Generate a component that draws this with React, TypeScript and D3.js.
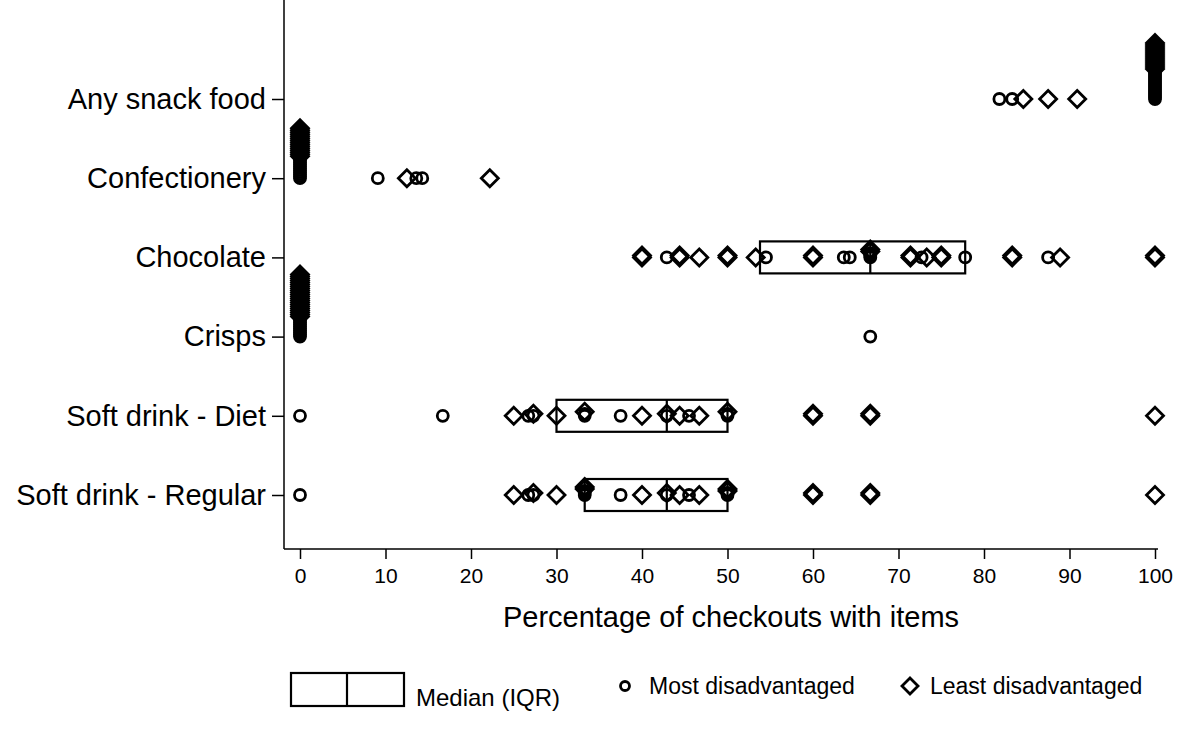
import React, { useRef, useEffect } from "react";
import { select, scaleLinear, scalePoint, axisBottom, axisLeft, symbol, symbolCircle } from "d3";

// categories, top to bottom
const categories = [
  "Any snack food",
  "Confectionery",
  "Chocolate",
  "Crisps",
  "Soft drink - Diet",
  "Soft drink - Regular",
];

const xTicks = [0, 10, 20, 30, 40, 50, 60, 70, 80, 90, 100];

// [percentage, number of checkouts] for most disadvantaged areas (circles)
const snackMost = [[81.8, 1], [83.3, 1], [100, 15]];
const confMost = [[0, 11], [9.1, 1], [13.6, 1], [14.3, 1]];
const chocMost = [[42.9, 1], [54.5, 1], [63.6, 1], [64.3, 1], [66.7, 3], [72.7, 1], [77.8, 1], [87.5, 1]];
const crispsMost = [[0, 10], [66.7, 1]];
const dietMost = [[0, 1], [16.7, 1], [26.7, 1], [27.3, 1], [33.3, 2], [37.5, 1], [42.9, 1], [45.5, 1], [50, 2]];
const regularMost = [[0, 1], [26.7, 1], [27.3, 1], [33.3, 3], [37.5, 1], [42.9, 1], [45.5, 1], [50, 2]];

// [percentage, number of checkouts] for least disadvantaged areas (diamonds)
const snackLeast = [[84.6, 1], [87.5, 1], [90.9, 1], [100, 14]];
const confLeast = [[0, 15], [12.5, 1], [22.2, 1]];
const chocLeast = [[40, 2], [44.4, 2], [46.7, 1], [50, 2], [53.3, 1], [60, 2], [66.7, 2], [71.4, 2], [73.3, 1], [75, 2], [83.3, 2], [88.9, 1], [100, 2]];
const crispsLeast = [[0, 22]];
const dietLeast = [[25, 1], [27.3, 1], [30, 1], [33.3, 1], [40, 1], [42.9, 1], [44.4, 1], [46.7, 1], [50, 1], [60, 2], [66.7, 2], [100, 1]];
const regularLeast = [[25, 1], [27.3, 1], [30, 1], [33.3, 2], [40, 1], [42.9, 1], [44.4, 1], [46.7, 1], [50, 2], [60, 2], [66.7, 2], [100, 1]];

const mostData = [snackMost, confMost, chocMost, crispsMost, dietMost, regularMost];
const leastData = [snackLeast, confLeast, chocLeast, crispsLeast, dietLeast, regularLeast];

// median (IQR) per category
const boxQ1 = [100, 0, 53.8, 0, 30, 33.3];
const boxMedian = [100, 0, 66.7, 0, 42.9, 42.9];
const boxQ3 = [100, 0, 77.8, 0, 50, 50];

const FONT = "'Liberation Sans', Arial, sans-serif";
const STEP = 2; // vertical offset for tied values
const MARK_W = 2.8;

function diamondPath(r: number) {
  return `M0,${-r}L${r},0L0,${r}L${-r},0Z`;
}

export default function App() {
  const svgRef = useRef<SVGSVGElement>(null);

  useEffect(() => {
    const svg = select(svgRef.current);
    svg.selectAll("*").remove();

    const x = scaleLinear().domain([0, 100]).range([300, 1155]);
    const y = scalePoint<string>().domain(categories).range([99, 495]);
    const axisY = 549;
    const axisX = 284;

    // axis lines
    svg.append("line")
      .attr("x1", axisX).attr("x2", axisX).attr("y1", 0).attr("y2", axisY)
      .attr("stroke", "#000").attr("stroke-width", 1.5);
    svg.append("line")
      .attr("x1", axisX).attr("x2", 1158).attr("y1", axisY).attr("y2", axisY)
      .attr("stroke", "#000").attr("stroke-width", 1.5);

    const gx = svg.append("g").attr("transform", `translate(0,${axisY})`)
      .call(axisBottom(x).tickValues(xTicks).tickSize(10).tickPadding(9).tickFormat((d: any) => String(d)));
    gx.select(".domain").remove();
    gx.selectAll("line").attr("stroke-width", 1.5);
    gx.selectAll("text").attr("font-family", FONT).attr("font-size", 21).attr("fill", "#000");

    const gy = svg.append("g").attr("transform", `translate(${axisX},0)`)
      .call(axisLeft(y).tickSize(12).tickPadding(6));
    gy.select(".domain").remove();
    gy.selectAll("line").attr("stroke-width", 1.5);
    gy.selectAll("text").attr("font-family", FONT).attr("font-size", 29).attr("fill", "#000");

    svg.append("text")
      .attr("x", 731).attr("y", 627).attr("text-anchor", "middle")
      .attr("font-family", FONT).attr("font-size", 29)
      .text("Percentage of checkouts with items");

    // median (IQR) boxes
    const boxH = 32;
    categories.forEach((c, i) => {
      if (boxQ1[i] === boxQ3[i]) return;
      const cy = y(c)!;
      const g = svg.append("g");
      g.append("rect")
        .attr("x", x(boxQ1[i])).attr("y", cy - boxH / 2)
        .attr("width", x(boxQ3[i]) - x(boxQ1[i])).attr("height", boxH)
        .attr("fill", "none").attr("stroke", "#000").attr("stroke-width", 2.2);
      g.append("line")
        .attr("x1", x(boxMedian[i])).attr("x2", x(boxMedian[i]))
        .attr("y1", cy - boxH / 2).attr("y2", cy + boxH / 2)
        .attr("stroke", "#000").attr("stroke-width", 2.2);
    });

    // points: circles stacked first, diamonds on top of them
    const circlePath = symbol(symbolCircle, Math.PI * 5.5 * 5.5)();
    categories.forEach((c, i) => {
      const cy = y(c)!;
      const stackCount = new Map<number, number>();
      const pts: { v: number; k: number; shape: string }[] = [];
      mostData[i].forEach(([v, n]) => {
        for (let j = 0; j < n; j++) {
          const k = stackCount.get(v) || 0;
          pts.push({ v, k, shape: "circle" });
          stackCount.set(v, k + 1);
        }
      });
      leastData[i].forEach(([v, n]) => {
        for (let j = 0; j < n; j++) {
          const k = stackCount.get(v) || 0;
          pts.push({ v, k, shape: "diamond" });
          stackCount.set(v, k + 1);
        }
      });
      svg.append("g")
        .selectAll("path")
        .data(pts)
        .join("path")
        .attr("d", (d) => (d.shape === "circle" ? circlePath : diamondPath(8.5)))
        .attr("transform", (d) => `translate(${x(d.v)},${cy - d.k * STEP})`)
        .attr("fill", "none")
        .attr("stroke", "#000")
        .attr("stroke-width", MARK_W);
    });

    // legend
    const lg = svg.append("g");
    lg.append("rect").attr("x", 291).attr("y", 673).attr("width", 113).attr("height", 33)
      .attr("fill", "none").attr("stroke", "#000").attr("stroke-width", 2.2);
    lg.append("line").attr("x1", 347).attr("x2", 347).attr("y1", 673).attr("y2", 706)
      .attr("stroke", "#000").attr("stroke-width", 2.2);
    lg.append("text").attr("x", 416).attr("y", 706)
      .attr("font-family", FONT).attr("font-size", 24).text("Median (IQR)");
    lg.append("path").attr("d", symbol(symbolCircle, Math.PI * 4.5 * 4.5)()).attr("transform", "translate(625,686)")
      .attr("fill", "none").attr("stroke", "#000").attr("stroke-width", MARK_W);
    lg.append("text").attr("x", 649).attr("y", 694)
      .attr("font-family", FONT).attr("font-size", 23).text("Most disadvantaged");
    lg.append("path").attr("d", diamondPath(8)).attr("transform", "translate(910,686)")
      .attr("fill", "none").attr("stroke", "#000").attr("stroke-width", MARK_W);
    lg.append("text").attr("x", 930).attr("y", 694)
      .attr("font-family", FONT).attr("font-size", 23).text("Least disadvantaged");
  }, []);

  return (
    <svg
      ref={svgRef}
      width={1200}
      height={734}
      style={{ position: "absolute", left: 0, top: 0, background: "#fff" }}
    />
  );
}
